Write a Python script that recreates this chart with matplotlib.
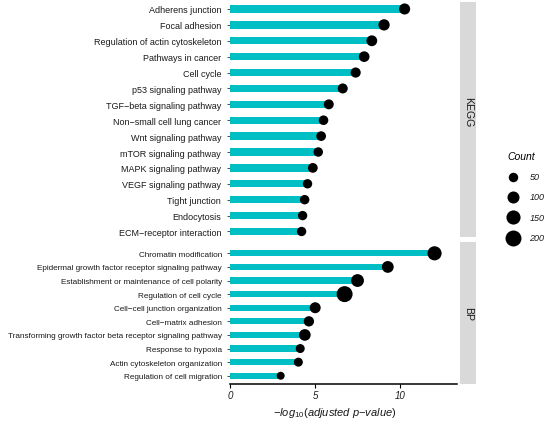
import matplotlib
matplotlib.use("Agg")
import matplotlib.pyplot as plt

plt.rcParams['font.family'] = ['Liberation Sans', 'DejaVu Sans']
plt.rcParams['mathtext.fontset'] = 'custom'
plt.rcParams['mathtext.it'] = 'Liberation Sans:italic'
plt.rcParams['mathtext.rm'] = 'Liberation Sans'

# ---------------- data ----------------
kegg_terms = ["Adherens junction", "Focal adhesion", "Regulation of actin cytoskeleton",
              "Pathways in cancer", "Cell cycle", "p53 signaling pathway",
              "TGF\u2212beta signaling pathway", "Non\u2212small cell lung cancer",
              "Wnt signaling pathway", "mTOR signaling pathway", "MAPK signaling pathway",
              "VEGF signaling pathway", "Tight junction", "Endocytosis",
              "ECM\u2212receptor interaction"]
kegg_values = [10.27, 9.06, 8.34, 7.89, 7.39, 6.63, 5.81, 5.50, 5.36, 5.19, 4.87, 4.56, 4.39, 4.27, 4.21]
kegg_counts = [80, 84, 75, 72, 62, 60, 58, 52, 54, 50, 55, 48, 50, 48, 48]

bp_terms = ["Chromatin modification", "Epidermal growth factor receptor signaling pathway",
            "Establishment or maintenance of cell polarity", "Regulation of cell cycle",
            "Cell\u2212cell junction organization", "Cell\u2212matrix adhesion",
            "Transforming growth factor beta receptor signaling pathway",
            "Response to hypoxia", "Actin cytoskeleton organization",
            "Regulation of cell migration"]
bp_values = [12.03, 9.28, 7.50, 6.74, 5.01, 4.64, 4.40, 4.13, 4.02, 2.98]
bp_counts = [150, 95, 118, 200, 78, 65, 92, 42, 42, 26]

legend_counts = [50, 100, 150, 200]
x_ticks = [0, 5, 10]
panel_names = ["KEGG", "BP"]

# ---------------- style ----------------
BAR = "#00BFC4"
DOT = "#000000"
STRIP = "#D9D9D9"
TXT = "#1A1A1A"


def size_of(c):
    return 18 + 0.57 * c


fig = plt.figure(figsize=(5.5, 4.27), dpi=100)
left, width = 0.4182, 0.4127
ax1 = fig.add_axes([left, 0.4433, width, 0.5497])
ax2 = fig.add_axes([left, 0.0995, width, 0.3307])

panels = [(ax1, kegg_terms, kegg_values, kegg_counts, (0.33, 0.44), 6.5, 4.2),
          (ax2, bp_terms, bp_values, bp_counts, (0.57, 0.81), 5.9, 3.6)]

for ax, terms, vals, cnts, (pb, pt), fsz, pad in panels:
    ypos = list(range(len(terms)))
    ax.barh(ypos, vals, height=0.46, color=BAR, zorder=2)
    ax.scatter(vals, ypos, s=[size_of(c) for c in cnts], color=DOT, zorder=3, linewidths=0)
    ax.set_yticks(ypos)
    ax.set_yticklabels(terms, fontsize=fsz, color=TXT)
    ax.set_ylim(len(terms) - 1 + pb, -pt)
    ax.set_xlim(0, 13.35)
    for s in ax.spines.values():
        s.set_visible(False)
    ax.tick_params(axis='y', length=2.2, width=0.6, color='#333333', pad=pad)

ax1.set_xticks([])
ax2.spines['bottom'].set_visible(True)
ax2.spines['bottom'].set_linewidth(1.1)
ax2.set_xticks(x_ticks)
ax2.set_xticklabels([str(t) for t in x_ticks], fontsize=7, style='italic', color=TXT)
ax2.tick_params(axis='x', length=3, width=0.8, pad=2)
ax2.set_xlabel(r'$\mathit{-log}_{\mathit{10}}\mathit{(adjusted\ p}$' + '\u2212' + r'$\mathit{value)}$',
               fontsize=8, color=TXT)
ax2.xaxis.set_label_coords(0.4626, -0.155)

# strips
text_y = [0.536, 0.5]
for ax, name, ty in zip([ax1, ax2], panel_names, text_y):
    pos = ax.get_position()
    sax = fig.add_axes([0.8355, pos.y0, 0.030, pos.height])
    sax.set_facecolor(STRIP)
    sax.set_xticks([])
    sax.set_yticks([])
    for s in sax.spines.values():
        s.set_visible(False)
    sax.text(0.5, ty, name, rotation=-90, ha='center', va='center', fontsize=7.6,
             color=TXT, transform=sax.transAxes)

# legend
handles = [ax1.scatter([], [], s=size_of(c), color=DOT, linewidths=0) for c in legend_counts]
leg = fig.legend(handles, [str(c) for c in legend_counts], title="Count",
                 loc='upper left', bbox_to_anchor=(0.914, 0.655), frameon=False,
                 prop={'style': 'italic', 'size': 6.5}, labelspacing=1.25,
                 handletextpad=1.25, borderpad=0, handlelength=1.2, alignment='left')
leg.get_title().set_fontstyle('italic')
leg.get_title().set_fontsize(7.5)
for t in leg.get_texts():
    t.set_color(TXT)

fig.savefig("out.png", dpi=100)
